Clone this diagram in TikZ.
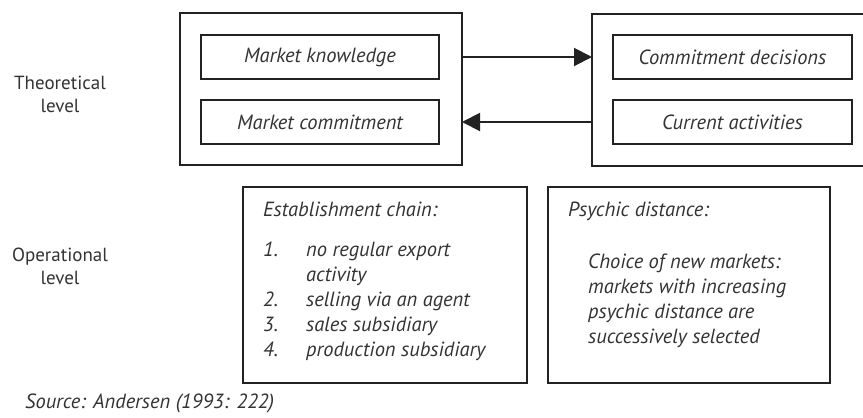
\documentclass[tikz,border=0pt]{standalone}
\usepackage{fontspec}
\setmainfont{PT Sans}
\usetikzlibrary{arrows.meta}
\definecolor{ink}{HTML}{222222}
\definecolor{txt}{HTML}{333333}
\begin{document}
\begin{tikzpicture}[x=1bp,y=-1bp,
  outerbox/.style={draw=ink,line width=2bp,inner sep=0pt,outer sep=0pt,minimum height=152bp},
  innerbox/.style={draw=ink,line width=2bp,inner sep=0pt,outer sep=0pt,
    minimum width=238bp,minimum height=44bp,text=txt,font=\fontsize{20.5bp}{25bp}\selectfont\itshape},
  opbox/.style={draw=ink,line width=2bp,inner sep=0pt,outer sep=0pt,minimum height=196bp},
  itext/.style={inner sep=0pt,text=txt,font=\fontsize{20.5bp}{25bp}\selectfont\itshape},
  lvl/.style={inner sep=0pt,text=txt,align=center,font=\fontsize{19bp}{23bp}\selectfont},
  conn/.style={draw=ink,line width=2bp,-{Triangle[length=18bp,width=18bp]}}]
\useasboundingbox (0,0) rectangle (863,417);
\clip (0,0) rectangle (863,417);

% level labels (base anchor sits on the last line)
\node[lvl,anchor=base] (theo) at (60,112) {Theoretical\\level};
\node[lvl,anchor=base] (oper) at (60,284) {Operational\\level};

% theoretical level: state and change aspects
\node[outerbox,minimum width=282bp] (state) at (321,89) {};
\node[innerbox] (mk) at (320,57) {Market knowledge};
\node[innerbox] (mc) at (320,122) {Market commitment};

\node[outerbox,minimum width=283bp] (change) at (733.5,90) {};
\node[innerbox,minimum width=239bp] (cd) at (732.5,57) {Commitment decisions};
\node[innerbox,minimum width=239bp] (ca) at (732.5,122) {Current activities};

\draw[conn] (state.east |- mk) -- (change.west |- mk);
\draw[conn] (change.west |- mc) -- (state.east |- mc);

% operational level
\node[opbox,minimum width=284bp] (chain) at (385,285) {};
\node[opbox,minimum width=282bp] (psych) at (689,285) {};

\node[itext,anchor=base west] (chainhead) at (263,216) {Establishment chain:};
\node[itext,anchor=base west,align=left] (chainlist) at (263,356)
  {\makebox[43bp][l]{1.}no regular export\\
   \hspace*{43bp}activity\\
   \makebox[43bp][l]{2.}selling via an agent\\
   \makebox[43bp][l]{3.}sales subsidiary\\
   \makebox[43bp][l]{4.}production subsidiary};

\node[itext,anchor=base west] (psychhead) at (568,216) {Psychic distance:};
\node[itext,anchor=base west,align=left] (psychtext) at (588,343)
  {Choice of new markets:\\
   markets with increasing\\
   psychic distance are\\
   successively selected};

\node[itext,anchor=base west] (source) at (25,408) {Source: Andersen (1993: 222)};
\end{tikzpicture}
\end{document}
